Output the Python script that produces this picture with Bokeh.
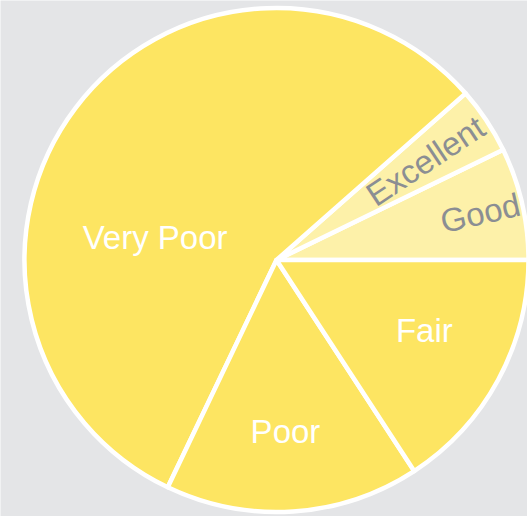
import math
from bokeh.plotting import figure
from bokeh.models import ColumnDataSource, Range1d
from bokeh.core.properties import value
from bokeh.embed import file_html
from bokeh.resources import INLINE

# data (counter-clockwise from east)
categories = ["Good", "Excellent", "Very Poor", "Poor", "Fair"]
shares = [7.2, 4.3, 56.4, 16.3, 15.8]
colors = ["#fdf1a9", "#fdf1a9", "#fde562", "#fde562", "#fde562"]
label_colors = ["#8b8e93", "#8b8e93", "#ffffff", "#ffffff", "#ffffff"]
label_rotate = [True, True, False, False, False]
label_radius_frac = [0.83, 0.71, 0.49, 0.68, 0.65]
label_angle_override = [None, None, 169.5, 273.0, 334.5]

W, H = 527, 516
cx, cy = 276, H - 259.5
R = 252

total = sum(shares)
starts, ends, lx, ly, ang = [], [], [], [], []
acc = 0.0
for i, s in enumerate(shares):
    a0 = acc / total * 2 * math.pi
    acc += s
    a1 = acc / total * 2 * math.pi
    starts.append(a0)
    ends.append(a1)
    mid = (a0 + a1) / 2
    la = math.radians(label_angle_override[i]) if label_angle_override[i] is not None else mid
    r = label_radius_frac[i] * R
    lx.append(cx + r * math.cos(la))
    ly.append(cy + r * math.sin(la))
    ang.append(mid if label_rotate[i] else 0.0)

src = ColumnDataSource(dict(cat=categories, start=starts, end=ends, color=colors,
                            lx=lx, ly=ly, ang=ang, tcolor=label_colors))

p = figure(width=W, height=H, output_backend="svg", toolbar_location=None,
           x_range=Range1d(0, W), y_range=Range1d(0, H), min_border=0)
p.axis.visible = False
p.grid.visible = False
p.outline_line_color = None
p.background_fill_color = "#e4e5e7"
p.border_fill_color = "#e4e5e7"

p.wedge(x=cx, y=cy, radius=R, start_angle="start", end_angle="end", source=src,
        fill_color="color", line_color="white", line_width=4.5, line_join="round")
p.text(x="lx", y="ly", text="cat", angle="ang", source=src, text_color="tcolor",
       text_font=value("Liberation Sans"), text_font_size="33px",
       text_align="center", text_baseline="middle")

html = file_html(p, INLINE)
html = html.replace("<body>", '<body style="margin:0;background:#e4e5e7">', 1)
open("out.html", "w").write(html)
